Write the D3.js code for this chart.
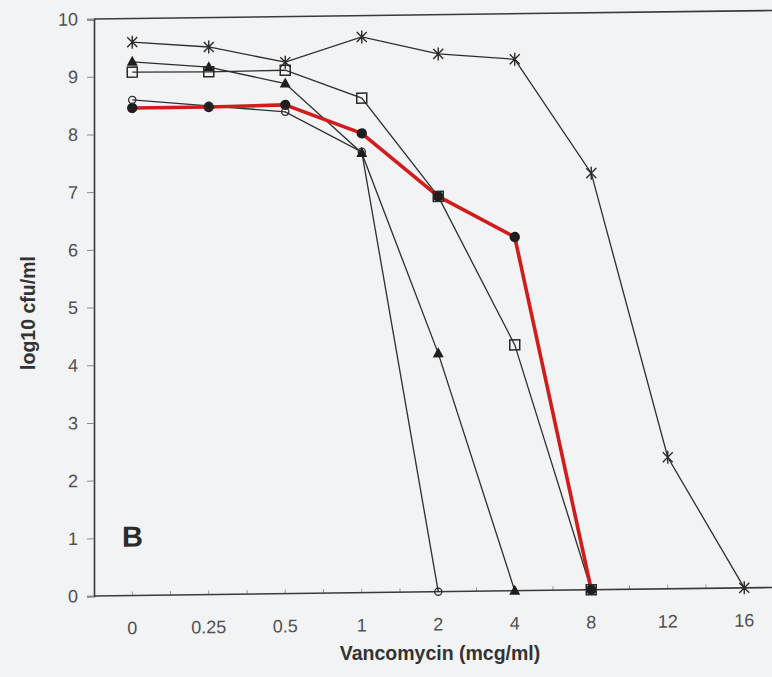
<!DOCTYPE html>
<html>
<head>
<meta charset="utf-8">
<script src="https://cdn.jsdelivr.net/npm/d3@7"></script>
<style>
    body { margin: 0; background: #f2f3f5; }
    svg { display: block; font-family: "Liberation Sans", Arial, sans-serif; }
</style>
</head>
<body>
<script>
// Vancomycin concentrations (x categories) and y ticks
var concentrations = ["0", "0.25", "0.5", "1", "2", "4", "8", "12", "16"];
var yTicks = [0, 1, 2, 3, 4, 5, 6, 7, 8, 9, 10];

// log10 cfu/ml per strain
var starSeries = [9.59, 9.49, 9.21, 9.63, 9.32, 9.21, 7.22, 2.28, 0];
var triangleSeries = [9.25, 9.14, 8.84, 7.62, 4.13, 0];
var openSquareSeries = [9.07, 9.06, 9.07, 8.57, 6.85, 4.26, 0];
var openCircleSeries = [8.59, 8.47, 8.35, 7.64, 0];
var redSeries = [8.45, 8.45, 8.47, 7.96, 6.85, 6.13, 0];

var width = 772, height = 677;
// plot edges (note: "top" is taken by window.top, so use plotTop)
var plotLeft = 94, plotBottom = 596, plotTop = 19, step = 76.5;

var svg = d3.select("body").append("svg")
    .attr("width", width)
    .attr("height", height);

svg.append("rect")
    .attr("width", width).attr("height", height)
    .attr("fill", "#f2f3f5");

// the scanned page is a little skewed, so tilt the plot group
var g = svg.append("g")
    .attr("transform", "translate(" + plotLeft + ",0) skewY(-0.72) translate(" + (-plotLeft) + ",0)");

var xScale = d3.scaleBand()
    .domain(concentrations)
    .range([plotLeft, plotLeft + step * concentrations.length]);
var yScale = d3.scaleLinear().domain([0, 10]).range([plotBottom, plotTop]);

function cx(i) { return xScale(concentrations[i]) + xScale.bandwidth() / 2; }

// y axis with outward ticks
var yAxis = d3.axisLeft(yScale).tickValues(yTicks).tickSize(7).tickPadding(9);
var yg = g.append("g")
    .attr("transform", "translate(" + plotLeft + ",0)")
    .call(yAxis);
yg.select(".domain").attr("stroke", "#3a3a3a").attr("stroke-width", 1.6);
yg.selectAll(".tick line").attr("stroke", "#8a8a8a").attr("stroke-width", 1);
yg.selectAll(".tick text")
    .attr("font-size", "18px")
    .attr("fill", "#505050")
    .attr("font-family", "'Liberation Sans', Arial, sans-serif");

// x axis: small inside ticks at band edges and centres, labels below
var xAxis = d3.axisBottom(xScale).tickSize(0).tickPadding(26);
var xg = g.append("g")
    .attr("transform", "translate(0," + plotBottom + ")")
    .call(xAxis);
xg.select(".domain").remove();
xg.selectAll(".tick text")
    .attr("font-size", "18px")
    .attr("fill", "#505050")
    .attr("font-family", "'Liberation Sans', Arial, sans-serif");

var minorTicks = [];
concentrations.forEach(function(c, i) {
    if (i > 0) minorTicks.push(xScale(c));
    minorTicks.push(xScale(c) + xScale.bandwidth() / 2);
});
g.selectAll(".minor")
    .data(minorTicks)
    .enter().append("line")
    .attr("x1", function(d) { return d; })
    .attr("x2", function(d) { return d; })
    .attr("y1", plotBottom)
    .attr("y2", plotBottom - 4)
    .attr("stroke", "#9a9a9a")
    .attr("stroke-width", 1);

g.append("line")
    .attr("x1", plotLeft).attr("x2", width + 10)
    .attr("y1", plotBottom).attr("y2", plotBottom)
    .attr("stroke", "#3a3a3a").attr("stroke-width", 1.6);

// top frame line
g.append("line")
    .attr("x1", plotLeft).attr("x2", width + 10)
    .attr("y1", yScale(10)).attr("y2", yScale(10))
    .attr("stroke", "#3a3a3a").attr("stroke-width", 1.6);

var line = d3.line()
    .x(function(d, i) { return cx(i); })
    .y(function(d) { return yScale(d); });

var blackSeries = [starSeries, triangleSeries, openSquareSeries, openCircleSeries];
g.selectAll(".thin")
    .data(blackSeries)
    .enter().append("path")
    .attr("d", line)
    .attr("fill", "none")
    .attr("stroke", "#2e2e2e")
    .attr("stroke-width", 1.3);

g.append("path")
    .datum(redSeries)
    .attr("d", line)
    .attr("fill", "none")
    .attr("stroke", "#d21c1c")
    .attr("stroke-width", 3.6)
    .attr("stroke-linejoin", "round");

// markers
g.selectAll(".dot")
    .data(redSeries)
    .enter().append("circle")
    .attr("cx", function(d, i) { return cx(i); })
    .attr("cy", function(d) { return yScale(d); })
    .attr("r", 5.2)
    .attr("fill", "#1e1e1e");

g.selectAll(".ring")
    .data(openCircleSeries)
    .enter().append("circle")
    .attr("cx", function(d, i) { return cx(i); })
    .attr("cy", function(d) { return yScale(d); })
    .attr("r", 3.6)
    .attr("fill", "none")
    .attr("stroke", "#2e2e2e")
    .attr("stroke-width", 1.3);

g.selectAll(".tri")
    .data(triangleSeries)
    .enter().append("path")
    .attr("d", "M0,-6L5.5,4L-5.5,4Z")
    .attr("transform", function(d, i) {
        return "translate(" + cx(i) + "," + yScale(d) + ")";
    })
    .attr("fill", "#1e1e1e");

g.selectAll(".sq")
    .data(openSquareSeries)
    .enter().append("rect")
    .attr("x", function(d, i) { return cx(i) - 5; })
    .attr("y", function(d) { return yScale(d) - 5; })
    .attr("width", 10).attr("height", 10)
    .attr("fill", "none")
    .attr("stroke", "#2a2a2a")
    .attr("stroke-width", 1.5);

g.selectAll(".star")
    .data(starSeries)
    .enter().append("path")
    .attr("d", "M-5,-5L5,5M-5,5L5,-5M0,-6.5L0,6.5")
    .attr("transform", function(d, i) {
        return "translate(" + cx(i) + "," + yScale(d) + ")";
    })
    .attr("fill", "none")
    .attr("stroke", "#2a2a2a")
    .attr("stroke-width", 1.4);

// panel letter
g.append("text")
    .attr("x", 122).attr("y", 547)
    .attr("font-size", "29px")
    .attr("font-weight", "bold")
    .attr("fill", "#2a2a2a")
    .text("B");

// axis titles
svg.append("text")
    .attr("x", 440).attr("y", 660)
    .attr("text-anchor", "middle")
    .attr("font-size", "19.5px")
    .attr("font-weight", "bold")
    .attr("fill", "#333")
    .text("Vancomycin (mcg/ml)");

svg.append("text")
    .attr("transform", "translate(35,313) rotate(-90)")
    .attr("text-anchor", "middle")
    .attr("font-size", "19.5px")
    .attr("font-weight", "bold")
    .attr("fill", "#333")
    .text("log10 cfu/ml");
</script>
</body>
</html>
